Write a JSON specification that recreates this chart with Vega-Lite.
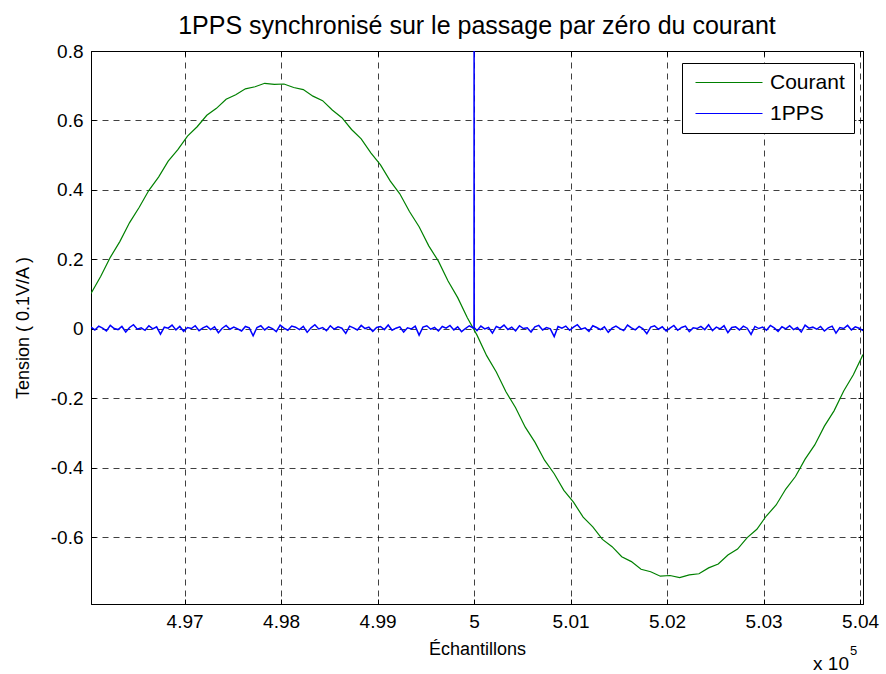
{
  "$schema": "https://vega.github.io/schema/vega-lite/v6.json",
  "width": 772,
  "height": 553,
  "autosize": {"type": "none"},
  "padding": {"left": 91, "top": 51, "right": 23, "bottom": 70},
  "background": "white",
  "title": {"text": "1PPS synchronisé sur le passage par zéro du courant", "fontSize": 25, "font": "Liberation Sans", "fontWeight": "normal", "color": "black", "offset": 3},
  "datasets": {
    "courant": [
      {"x": 496030, "y": 0.102, "serie": "Courant"}, {"x": 496130, "y": 0.151, "serie": "Courant"}, {"x": 496230, "y": 0.206, "serie": "Courant"}, {"x": 496330, "y": 0.252, "serie": "Courant"},
      {"x": 496430, "y": 0.306, "serie": "Courant"}, {"x": 496530, "y": 0.350, "serie": "Courant"}, {"x": 496630, "y": 0.399, "serie": "Courant"}, {"x": 496730, "y": 0.437, "serie": "Courant"},
      {"x": 496830, "y": 0.483, "serie": "Courant"}, {"x": 496930, "y": 0.516, "serie": "Courant"}, {"x": 497030, "y": 0.555, "serie": "Courant"}, {"x": 497130, "y": 0.582, "serie": "Courant"},
      {"x": 497230, "y": 0.615, "serie": "Courant"}, {"x": 497330, "y": 0.635, "serie": "Courant"}, {"x": 497430, "y": 0.661, "serie": "Courant"}, {"x": 497530, "y": 0.674, "serie": "Courant"},
      {"x": 497630, "y": 0.691, "serie": "Courant"}, {"x": 497730, "y": 0.697, "serie": "Courant"}, {"x": 497830, "y": 0.707, "serie": "Courant"}, {"x": 497930, "y": 0.704, "serie": "Courant"},
      {"x": 498030, "y": 0.705, "serie": "Courant"}, {"x": 498130, "y": 0.695, "serie": "Courant"}, {"x": 498230, "y": 0.689, "serie": "Courant"}, {"x": 498330, "y": 0.670, "serie": "Courant"},
      {"x": 498430, "y": 0.657, "serie": "Courant"}, {"x": 498530, "y": 0.630, "serie": "Courant"}, {"x": 498630, "y": 0.608, "serie": "Courant"}, {"x": 498730, "y": 0.574, "serie": "Courant"},
      {"x": 498830, "y": 0.547, "serie": "Courant"}, {"x": 498930, "y": 0.507, "serie": "Courant"}, {"x": 499030, "y": 0.472, "serie": "Courant"}, {"x": 499130, "y": 0.426, "serie": "Courant"},
      {"x": 499230, "y": 0.389, "serie": "Courant"}, {"x": 499330, "y": 0.338, "serie": "Courant"}, {"x": 499430, "y": 0.294, "serie": "Courant"}, {"x": 499530, "y": 0.239, "serie": "Courant"},
      {"x": 499630, "y": 0.195, "serie": "Courant"}, {"x": 499730, "y": 0.138, "serie": "Courant"}, {"x": 499830, "y": 0.090, "serie": "Courant"}, {"x": 499930, "y": 0.032, "serie": "Courant"},
      {"x": 500030, "y": -0.018, "serie": "Courant"}, {"x": 500130, "y": -0.077, "serie": "Courant"}, {"x": 500230, "y": -0.124, "serie": "Courant"}, {"x": 500330, "y": -0.181, "serie": "Courant"},
      {"x": 500430, "y": -0.227, "serie": "Courant"}, {"x": 500530, "y": -0.283, "serie": "Courant"}, {"x": 500630, "y": -0.326, "serie": "Courant"}, {"x": 500730, "y": -0.378, "serie": "Courant"},
      {"x": 500830, "y": -0.417, "serie": "Courant"}, {"x": 500930, "y": -0.465, "serie": "Courant"}, {"x": 501030, "y": -0.499, "serie": "Courant"}, {"x": 501130, "y": -0.542, "serie": "Courant"},
      {"x": 501230, "y": -0.570, "serie": "Courant"}, {"x": 501330, "y": -0.606, "serie": "Courant"}, {"x": 501430, "y": -0.627, "serie": "Courant"}, {"x": 501530, "y": -0.656, "serie": "Courant"},
      {"x": 501630, "y": -0.670, "serie": "Courant"}, {"x": 501730, "y": -0.692, "serie": "Courant"}, {"x": 501830, "y": -0.699, "serie": "Courant"}, {"x": 501930, "y": -0.712, "serie": "Courant"},
      {"x": 502030, "y": -0.710, "serie": "Courant"}, {"x": 502130, "y": -0.716, "serie": "Courant"}, {"x": 502230, "y": -0.708, "serie": "Courant"}, {"x": 502330, "y": -0.705, "serie": "Courant"},
      {"x": 502430, "y": -0.688, "serie": "Courant"}, {"x": 502530, "y": -0.677, "serie": "Courant"}, {"x": 502630, "y": -0.651, "serie": "Courant"}, {"x": 502730, "y": -0.634, "serie": "Courant"},
      {"x": 502830, "y": -0.601, "serie": "Courant"}, {"x": 502930, "y": -0.577, "serie": "Courant"}, {"x": 503030, "y": -0.538, "serie": "Courant"}, {"x": 503130, "y": -0.507, "serie": "Courant"},
      {"x": 503230, "y": -0.461, "serie": "Courant"}, {"x": 503330, "y": -0.425, "serie": "Courant"}, {"x": 503430, "y": -0.375, "serie": "Courant"}, {"x": 503530, "y": -0.334, "serie": "Courant"},
      {"x": 503630, "y": -0.280, "serie": "Courant"}, {"x": 503730, "y": -0.236, "serie": "Courant"}, {"x": 503830, "y": -0.179, "serie": "Courant"}, {"x": 503930, "y": -0.132, "serie": "Courant"},
      {"x": 504030, "y": -0.074, "serie": "Courant"}
    ],
    "pps": [
      {"x": 496030, "y": 0.005, "serie": "1PPS"}, {"x": 496070, "y": -0.003, "serie": "1PPS"}, {"x": 496110, "y": 0.008, "serie": "1PPS"}, {"x": 496150, "y": 0.002, "serie": "1PPS"}, {"x": 496190, "y": -0.006, "serie": "1PPS"},
      {"x": 496230, "y": 0.010, "serie": "1PPS"}, {"x": 496270, "y": 0.001, "serie": "1PPS"}, {"x": 496310, "y": -0.002, "serie": "1PPS"}, {"x": 496350, "y": 0.007, "serie": "1PPS"}, {"x": 496390, "y": -0.009, "serie": "1PPS"},
      {"x": 496430, "y": 0.004, "serie": "1PPS"}, {"x": 496470, "y": 0.012, "serie": "1PPS"}, {"x": 496510, "y": -0.001, "serie": "1PPS"}, {"x": 496550, "y": 0.003, "serie": "1PPS"}, {"x": 496590, "y": -0.004, "serie": "1PPS"},
      {"x": 496630, "y": 0.009, "serie": "1PPS"}, {"x": 496670, "y": 0.000, "serie": "1PPS"}, {"x": 496710, "y": 0.006, "serie": "1PPS"}, {"x": 496750, "y": -0.015, "serie": "1PPS"}, {"x": 496790, "y": 0.005, "serie": "1PPS"},
      {"x": 496830, "y": 0.002, "serie": "1PPS"}, {"x": 496870, "y": 0.011, "serie": "1PPS"}, {"x": 496910, "y": -0.003, "serie": "1PPS"}, {"x": 496950, "y": 0.007, "serie": "1PPS"}, {"x": 496990, "y": -0.007, "serie": "1PPS"},
      {"x": 497030, "y": 0.004, "serie": "1PPS"}, {"x": 497070, "y": 0.001, "serie": "1PPS"}, {"x": 497110, "y": 0.009, "serie": "1PPS"}, {"x": 497150, "y": -0.005, "serie": "1PPS"}, {"x": 497190, "y": 0.003, "serie": "1PPS"},
      {"x": 497230, "y": 0.008, "serie": "1PPS"}, {"x": 497270, "y": -0.002, "serie": "1PPS"}, {"x": 497310, "y": 0.006, "serie": "1PPS"}, {"x": 497350, "y": -0.011, "serie": "1PPS"}, {"x": 497390, "y": 0.002, "serie": "1PPS"},
      {"x": 497430, "y": 0.010, "serie": "1PPS"}, {"x": 497470, "y": -0.001, "serie": "1PPS"}, {"x": 497510, "y": 0.005, "serie": "1PPS"}, {"x": 497550, "y": 0.000, "serie": "1PPS"}, {"x": 497590, "y": -0.006, "serie": "1PPS"},
      {"x": 497630, "y": 0.007, "serie": "1PPS"}, {"x": 497670, "y": 0.003, "serie": "1PPS"}, {"x": 497710, "y": -0.020, "serie": "1PPS"}, {"x": 497750, "y": 0.004, "serie": "1PPS"}, {"x": 497790, "y": 0.009, "serie": "1PPS"},
      {"x": 497830, "y": -0.003, "serie": "1PPS"}, {"x": 497870, "y": 0.006, "serie": "1PPS"}, {"x": 497910, "y": 0.001, "serie": "1PPS"}, {"x": 497950, "y": -0.008, "serie": "1PPS"}, {"x": 497990, "y": 0.011, "serie": "1PPS"},
      {"x": 498030, "y": 0.002, "serie": "1PPS"}, {"x": 498070, "y": -0.004, "serie": "1PPS"}, {"x": 498110, "y": 0.008, "serie": "1PPS"}, {"x": 498150, "y": 0.005, "serie": "1PPS"}, {"x": 498190, "y": -0.002, "serie": "1PPS"},
      {"x": 498230, "y": 0.007, "serie": "1PPS"}, {"x": 498270, "y": -0.010, "serie": "1PPS"}, {"x": 498310, "y": 0.003, "serie": "1PPS"}, {"x": 498350, "y": 0.012, "serie": "1PPS"}, {"x": 498390, "y": 0.000, "serie": "1PPS"},
      {"x": 498430, "y": 0.004, "serie": "1PPS"}, {"x": 498470, "y": -0.005, "serie": "1PPS"}, {"x": 498510, "y": 0.009, "serie": "1PPS"}, {"x": 498550, "y": -0.001, "serie": "1PPS"}, {"x": 498590, "y": 0.006, "serie": "1PPS"},
      {"x": 498630, "y": 0.002, "serie": "1PPS"}, {"x": 498670, "y": -0.013, "serie": "1PPS"}, {"x": 498710, "y": 0.008, "serie": "1PPS"}, {"x": 498750, "y": 0.003, "serie": "1PPS"}, {"x": 498790, "y": -0.003, "serie": "1PPS"},
      {"x": 498830, "y": 0.010, "serie": "1PPS"}, {"x": 498870, "y": 0.001, "serie": "1PPS"}, {"x": 498910, "y": 0.005, "serie": "1PPS"}, {"x": 498950, "y": -0.007, "serie": "1PPS"}, {"x": 498990, "y": 0.004, "serie": "1PPS"},
      {"x": 499030, "y": 0.007, "serie": "1PPS"}, {"x": 499070, "y": -0.002, "serie": "1PPS"}, {"x": 499110, "y": 0.011, "serie": "1PPS"}, {"x": 499150, "y": -0.004, "serie": "1PPS"}, {"x": 499190, "y": 0.002, "serie": "1PPS"},
      {"x": 499230, "y": 0.006, "serie": "1PPS"}, {"x": 499270, "y": -0.009, "serie": "1PPS"}, {"x": 499310, "y": 0.003, "serie": "1PPS"}, {"x": 499350, "y": 0.000, "serie": "1PPS"}, {"x": 499390, "y": 0.008, "serie": "1PPS"},
      {"x": 499430, "y": -0.018, "serie": "1PPS"}, {"x": 499470, "y": 0.005, "serie": "1PPS"}, {"x": 499510, "y": 0.009, "serie": "1PPS"}, {"x": 499550, "y": -0.001, "serie": "1PPS"}, {"x": 499590, "y": 0.004, "serie": "1PPS"},
      {"x": 499630, "y": -0.006, "serie": "1PPS"}, {"x": 499670, "y": 0.007, "serie": "1PPS"}, {"x": 499710, "y": 0.002, "serie": "1PPS"}, {"x": 499750, "y": 0.010, "serie": "1PPS"}, {"x": 499790, "y": -0.003, "serie": "1PPS"},
      {"x": 499830, "y": 0.006, "serie": "1PPS"}, {"x": 499870, "y": -0.008, "serie": "1PPS"}, {"x": 499910, "y": 0.001, "serie": "1PPS"}, {"x": 499950, "y": 0.009, "serie": "1PPS"}, {"x": 499990, "y": 0.003, "serie": "1PPS"},
      {"x": 499999, "y": 0.004, "serie": "1PPS"}, {"x": 500000, "y": 1.0, "serie": "1PPS"}, {"x": 500001, "y": 0.004, "serie": "1PPS"},
      {"x": 500030, "y": -0.005, "serie": "1PPS"}, {"x": 500070, "y": 0.008, "serie": "1PPS"}, {"x": 500110, "y": 0.000, "serie": "1PPS"}, {"x": 500150, "y": 0.004, "serie": "1PPS"}, {"x": 500190, "y": -0.012, "serie": "1PPS"},
      {"x": 500230, "y": 0.007, "serie": "1PPS"}, {"x": 500270, "y": 0.002, "serie": "1PPS"}, {"x": 500310, "y": 0.011, "serie": "1PPS"}, {"x": 500350, "y": -0.002, "serie": "1PPS"}, {"x": 500390, "y": 0.005, "serie": "1PPS"},
      {"x": 500430, "y": -0.006, "serie": "1PPS"}, {"x": 500470, "y": 0.009, "serie": "1PPS"}, {"x": 500510, "y": 0.001, "serie": "1PPS"}, {"x": 500550, "y": 0.003, "serie": "1PPS"}, {"x": 500590, "y": -0.009, "serie": "1PPS"},
      {"x": 500630, "y": 0.006, "serie": "1PPS"}, {"x": 500670, "y": 0.010, "serie": "1PPS"}, {"x": 500710, "y": -0.003, "serie": "1PPS"}, {"x": 500750, "y": 0.004, "serie": "1PPS"}, {"x": 500790, "y": 0.000, "serie": "1PPS"},
      {"x": 500830, "y": -0.022, "serie": "1PPS"}, {"x": 500870, "y": 0.007, "serie": "1PPS"}, {"x": 500910, "y": 0.002, "serie": "1PPS"}, {"x": 500950, "y": 0.008, "serie": "1PPS"}, {"x": 500990, "y": -0.004, "serie": "1PPS"},
      {"x": 501030, "y": 0.005, "serie": "1PPS"}, {"x": 501070, "y": 0.012, "serie": "1PPS"}, {"x": 501110, "y": -0.001, "serie": "1PPS"}, {"x": 501150, "y": 0.003, "serie": "1PPS"}, {"x": 501190, "y": -0.007, "serie": "1PPS"},
      {"x": 501230, "y": 0.009, "serie": "1PPS"}, {"x": 501270, "y": 0.004, "serie": "1PPS"}, {"x": 501310, "y": -0.002, "serie": "1PPS"}, {"x": 501350, "y": 0.006, "serie": "1PPS"}, {"x": 501390, "y": -0.010, "serie": "1PPS"},
      {"x": 501430, "y": 0.002, "serie": "1PPS"}, {"x": 501470, "y": 0.008, "serie": "1PPS"}, {"x": 501510, "y": 0.001, "serie": "1PPS"}, {"x": 501550, "y": -0.005, "serie": "1PPS"}, {"x": 501590, "y": 0.011, "serie": "1PPS"},
      {"x": 501630, "y": 0.003, "serie": "1PPS"}, {"x": 501670, "y": -0.003, "serie": "1PPS"}, {"x": 501710, "y": 0.007, "serie": "1PPS"}, {"x": 501750, "y": 0.000, "serie": "1PPS"}, {"x": 501790, "y": -0.014, "serie": "1PPS"},
      {"x": 501830, "y": 0.005, "serie": "1PPS"}, {"x": 501870, "y": 0.009, "serie": "1PPS"}, {"x": 501910, "y": -0.001, "serie": "1PPS"}, {"x": 501950, "y": 0.006, "serie": "1PPS"}, {"x": 501990, "y": -0.006, "serie": "1PPS"},
      {"x": 502030, "y": 0.002, "serie": "1PPS"}, {"x": 502070, "y": 0.010, "serie": "1PPS"}, {"x": 502110, "y": -0.004, "serie": "1PPS"}, {"x": 502150, "y": 0.004, "serie": "1PPS"}, {"x": 502190, "y": 0.008, "serie": "1PPS"},
      {"x": 502230, "y": -0.008, "serie": "1PPS"}, {"x": 502270, "y": 0.003, "serie": "1PPS"}, {"x": 502310, "y": 0.001, "serie": "1PPS"}, {"x": 502350, "y": 0.007, "serie": "1PPS"}, {"x": 502390, "y": -0.002, "serie": "1PPS"},
      {"x": 502430, "y": 0.012, "serie": "1PPS"}, {"x": 502470, "y": -0.005, "serie": "1PPS"}, {"x": 502510, "y": 0.005, "serie": "1PPS"}, {"x": 502550, "y": 0.000, "serie": "1PPS"}, {"x": 502590, "y": 0.009, "serie": "1PPS"},
      {"x": 502630, "y": -0.011, "serie": "1PPS"}, {"x": 502670, "y": 0.004, "serie": "1PPS"}, {"x": 502710, "y": 0.006, "serie": "1PPS"}, {"x": 502750, "y": -0.003, "serie": "1PPS"}, {"x": 502790, "y": 0.008, "serie": "1PPS"},
      {"x": 502830, "y": 0.002, "serie": "1PPS"}, {"x": 502870, "y": -0.016, "serie": "1PPS"}, {"x": 502910, "y": 0.007, "serie": "1PPS"}, {"x": 502950, "y": 0.001, "serie": "1PPS"}, {"x": 502990, "y": 0.005, "serie": "1PPS"},
      {"x": 503030, "y": -0.004, "serie": "1PPS"}, {"x": 503070, "y": 0.010, "serie": "1PPS"}, {"x": 503110, "y": 0.003, "serie": "1PPS"}, {"x": 503150, "y": -0.007, "serie": "1PPS"}, {"x": 503190, "y": 0.006, "serie": "1PPS"},
      {"x": 503230, "y": 0.000, "serie": "1PPS"}, {"x": 503270, "y": 0.009, "serie": "1PPS"}, {"x": 503310, "y": -0.002, "serie": "1PPS"}, {"x": 503350, "y": 0.004, "serie": "1PPS"}, {"x": 503390, "y": -0.009, "serie": "1PPS"},
      {"x": 503430, "y": 0.011, "serie": "1PPS"}, {"x": 503470, "y": 0.002, "serie": "1PPS"}, {"x": 503510, "y": 0.005, "serie": "1PPS"}, {"x": 503550, "y": -0.001, "serie": "1PPS"}, {"x": 503590, "y": 0.007, "serie": "1PPS"},
      {"x": 503630, "y": -0.006, "serie": "1PPS"}, {"x": 503670, "y": 0.003, "serie": "1PPS"}, {"x": 503710, "y": 0.008, "serie": "1PPS"}, {"x": 503750, "y": -0.012, "serie": "1PPS"}, {"x": 503790, "y": 0.004, "serie": "1PPS"},
      {"x": 503830, "y": 0.001, "serie": "1PPS"}, {"x": 503870, "y": 0.010, "serie": "1PPS"}, {"x": 503910, "y": -0.003, "serie": "1PPS"}, {"x": 503950, "y": 0.006, "serie": "1PPS"}, {"x": 503990, "y": 0.002, "serie": "1PPS"},
      {"x": 504030, "y": -0.005, "serie": "1PPS"}
    ],
    "notes": [
      {"x": 504030, "y": -0.792, "t": "x 10", "s": "5"}
    ]
  },
  "config": {
    "font": "Liberation Sans",
    "view": {"stroke": "black", "strokeWidth": 1},
    "axis": {
      "domainColor": "black",
      "tickColor": "black",
      "labelColor": "black",
      "titleColor": "black",
      "labelFont": "Liberation Sans",
      "titleFont": "Liberation Sans",
      "labelFontSize": 19,
      "titleFontSize": 18,
      "titleFontWeight": "normal",
      "gridColor": "black",
      "gridOpacity": 0.75,
      "gridDash": [6, 5],
      "gridWidth": 1,
      "tickSize": -5,
      "labelPadding": 13
    },
    "legend": {
      "fillColor": "white",
      "strokeColor": "black",
      "padding": 9,
      "cornerRadius": 0,
      "labelFont": "Liberation Sans",
      "labelFontSize": 21,
      "labelColor": "black",
      "symbolType": "M-0.6,0H6.1",
      "symbolSize": 400,
      "symbolStrokeWidth": 1,
      "labelOffset": 58,
      "rowPadding": 9
    }
  },
  "encoding": {
    "x": {"field": "x", "type": "quantitative", "scale": {"domain": [496030, 504030], "nice": false, "zero": false}},
    "y": {"field": "y", "type": "quantitative", "scale": {"domain": [-0.792, 0.8], "nice": false, "zero": false}}
  },
  "layer": [
    {
      "data": {"name": "courant"},
      "mark": {"type": "line", "strokeWidth": 1.2, "clip": true},
      "encoding": {
        "x": {"field": "x", "type": "quantitative", "axis": {"title": "Échantillons", "values": [497000, 498000, 499000, 500000, 501000, 502000, 503000, 504000], "labelExpr": "format(datum.value / 100000, '~g')", "titlePadding": 9}},
        "y": {"field": "y", "type": "quantitative", "axis": {"title": "Tension ( 0.1V/A )", "values": [-0.6, -0.4, -0.2, 0, 0.2, 0.4, 0.6, 0.8], "labelExpr": "replace(format(datum.value, '~g'), '−', '-')", "titlePadding": 18}},
        "color": {"field": "serie", "type": "nominal", "scale": {"domain": ["Courant", "1PPS"], "range": ["#008000", "#0000ff"]}, "legend": {"title": null, "orient": "none", "legendX": 591, "legendY": 12}}
      }
    },
    {
      "data": {"name": "pps"},
      "mark": {"type": "line", "strokeWidth": 1.5, "clip": true},
      "encoding": {
        "x": {"field": "x", "type": "quantitative", "axis": {"orient": "top", "title": null, "labels": false, "grid": false, "values": [497000, 498000, 499000, 500000, 501000, 502000, 503000, 504000]}},
        "y": {"field": "y", "type": "quantitative", "axis": {"orient": "right", "title": null, "labels": false, "grid": false, "values": [-0.6, -0.4, -0.2, 0, 0.2, 0.4, 0.6, 0.8]}},
        "color": {"field": "serie", "type": "nominal"}
      }
    },
    {
      "data": {"name": "notes"},
      "mark": {"type": "text", "align": "right", "baseline": "alphabetic", "fontSize": 19, "dx": -14, "dy": 66, "color": "black", "font": "Liberation Sans"},
      "encoding": {
        "x": {"field": "x", "type": "quantitative", "axis": null},
        "y": {"field": "y", "type": "quantitative", "axis": null},
        "text": {"field": "t"}
      }
    },
    {
      "data": {"name": "notes"},
      "mark": {"type": "text", "align": "left", "baseline": "alphabetic", "fontSize": 13, "dx": -13, "dy": 51, "color": "black", "font": "Liberation Sans"},
      "encoding": {
        "x": {"field": "x", "type": "quantitative", "axis": null},
        "y": {"field": "y", "type": "quantitative", "axis": null},
        "text": {"field": "s"}
      }
    }
  ],
  "resolve": {"axis": {"x": "independent", "y": "independent"}}
}
